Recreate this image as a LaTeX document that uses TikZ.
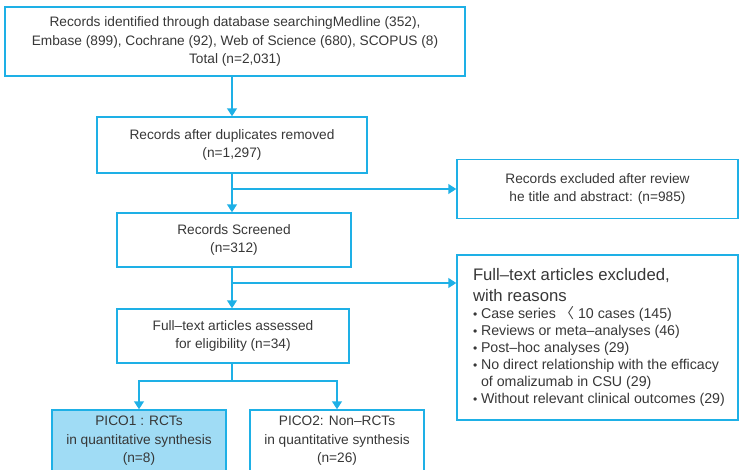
\documentclass[tikz,border=0pt]{standalone}
\usepackage{fontspec}
\setmainfont{Liberation Sans}
\newfontfamily\cjkfont{Noto Sans CJK KR}
\usetikzlibrary{arrows.meta}
\definecolor{lineblue}{RGB}{30,176,230}
\definecolor{fillblue}{RGB}{160,220,245}
\definecolor{txt}{RGB}{55,55,55}
\newcommand{\bul}{\makebox[8pt][l]{\raisebox{0.3pt}{\scalebox{0.85}{\textbullet}}}}
\begin{document}
\begin{tikzpicture}[x=1pt,y=-1pt,
  box/.style={draw=lineblue, line width=1.5pt, rectangle, align=center, text=txt,
    font=\fontsize{13.7}{18.5}\selectfont, inner sep=0pt},
  arr/.style={draw=lineblue, line width=1.5pt, -{Triangle[width=10pt,length=8pt]}},
  ln/.style={draw=lineblue, line width=1.5pt}]
\useasboundingbox (0,0) rectangle (739,469);
\node[box, minimum width=460pt, minimum height=69pt] (top) at (235,41.5)
  {Records identified through database searchingMedline (352),\\
   Embase (899), Cochrane (92), Web of Science (680), SCOPUS (8)\\
   Total (n=2,031)};
\node[box, minimum width=270pt, minimum height=56pt] (dup) at (232,145)
  {Records after duplicates removed\\(n=1,297)};
\node[box, minimum width=281pt, minimum height=59pt] (excl1) at (597.5,189)
  {Records excluded after review\\he title and abstract: (n=985)};
\node[box, minimum width=234pt, minimum height=54pt] (scr) at (234,240)
  {Records Screened\\(n=312)};
\node[box, minimum width=281pt, minimum height=165pt, align=left, anchor=center,
  font=\fontsize{14.2}{17}\selectfont] (excl2) at (597.5,337.5)
  {\begin{minipage}{255pt}\raggedright\leftskip=3pt
   {\fontsize{16.7}{21}\selectfont Full–text articles excluded,\\ with reasons\par}
   \bul Case series {\cjkfont 〈} 10 cases (145)\\
   \bul Reviews or meta–analyses (46)\\
   \bul Post–hoc analyses (29)\\
   \bul No direct relationship with the efficacy\\
   \hspace*{8pt}of omalizumab in CSU (29)\\
   \bul Without relevant clinical outcomes (29)
   \end{minipage}};
\node[box, minimum width=232pt, minimum height=54pt] (full) at (233,336)
  {Full–text articles assessed\\for eligibility (n=34)};
\node[box, fill=fillblue, minimum width=174pt, minimum height=62pt] (pico1) at (139,441)
  {PICO1 : RCTs\\in quantitative synthesis\\(n=8)};
\node[box, minimum width=174pt, minimum height=62pt] (pico2) at (337,441)
  {PICO2: Non–RCTs\\in quantitative synthesis\\(n=26)};
\coordinate (b1) at (232,189);
\coordinate (b2) at (232,283);
\coordinate (sp) at (232,381);
\draw[arr] (top.south -| dup.north) -- (dup.north);
\draw[arr] (dup.south) -- (scr.north -| dup.south);
\draw[arr] (b1) -- (excl1.west);
\draw[arr] (scr.south -| b2) -- (full.north -| b2);
\draw[arr] (b2) -- (b2 -| excl2.west);
\draw[ln] (full.south -| sp) -- (sp);
\draw[arr] (sp) -| (pico1.north);
\draw[arr] (sp) -| (pico2.north);
\end{tikzpicture}
\end{document}
